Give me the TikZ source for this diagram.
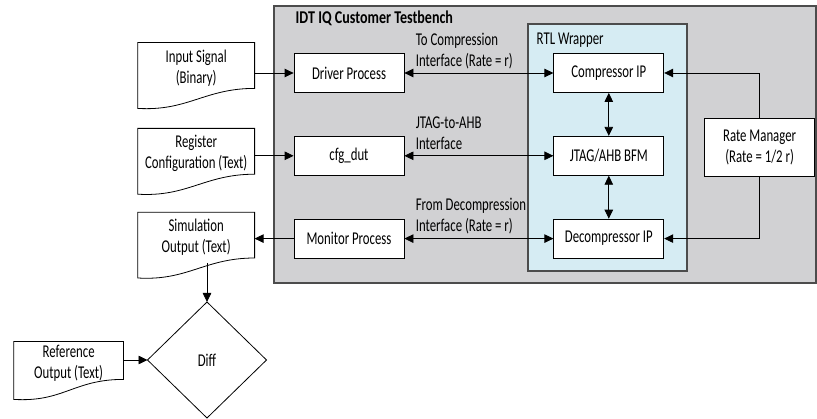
\documentclass[tikz,border=0pt]{standalone}
\usepackage{fontspec}
\setmainfont{Carlito}[FakeStretch=0.71]
\usepackage{xcolor}
\usetikzlibrary{shapes.geometric, arrows.meta, positioning, calc}
\definecolor{benchgray}{RGB}{209,209,211}
\definecolor{wrapblue}{RGB}{214,236,243}
\tikzset{block/.style={rectangle,draw,fill=white,align=center,minimum width=110pt,minimum height=39pt,inner sep=2pt},
         doc/.style={rectangle,align=center,minimum width=116pt,minimum height=50pt,inner sep=0pt},
         decision/.style={diamond,draw,minimum width=119pt,minimum height=116pt,inner sep=0pt,outer sep=0pt},
         frame/.style={draw=black!70,line width=1.1pt},
         lbl/.style={align=left,inner sep=0pt,execute at end node=\strut},
         arrow/.style={-{Triangle[length=9pt,width=8.5pt]}},
         biarrow/.style={{Triangle[length=9pt,width=8.5pt]}-{Triangle[length=9pt,width=8.5pt]}}}

\begin{document}
\begin{tikzpicture}[x=1pt,y=-1pt,node distance=43pt,font=\fontsize{18}{21}\selectfont,line width=0.8pt]
    \useasboundingbox (0,0) rectangle (817,419);
    % testbench and wrapper frames
    \draw[frame, fill=benchgray] (274,6) rectangle (816,283);
    \draw[frame, fill=wrapblue] (528,24) rectangle (687,271);
    \node (bench) [anchor=west] at (292,18) {\scalebox{1.1}[1]{\bfseries IDT IQ Customer Testbench}};
    \node (wrap) [anchor=west] at (533,40) {RTL Wrapper};
    % processes
    \node (driver) [block] at (349,73) {Driver Process};
    \node (cfgdut) [block, below=of driver] {cfg\_dut};
    \node (monitor) [block, below=of cfgdut] {Monitor Process};
    \node (compr) [block, right=149pt of driver] {Compressor IP};
    \node (bfm) [block, below=of compr] {JTAG/AHB BFM};
    \node (decomp) [block, below=of bfm] {Decompressor IP};
    \node (ratemgr) [block, right=40pt of bfm, yshift=8pt, minimum height=58pt] {Rate Manager\\(Rate = 1/2 r)};
    % interface labels
    \node (tolbl) [lbl, above right=0pt and 11pt of driver.east] {To Compression\\Interface (Rate = r)};
    \node (jtaglbl) [lbl, above right=0pt and 11pt of cfgdut.east] {JTAG-to-AHB\\Interface};
    \node (fromlbl) [lbl, above right=0pt and 11pt of monitor.east] {From Decompression\\Interface (Rate = r)};
    % files
    \node (insig) [doc, left=39pt of driver, yshift=5pt] {Input Signal\\(Binary)};
    \node (regcfg) [doc, left=39pt of cfgdut, yshift=2pt] {Register\\Configuration (Text)};
    \node (simout) [doc, left=39pt of monitor, yshift=1pt] {Simulation\\Output (Text)};
    \node (diff) [decision] at (207,360) {Diff};
    \node (refout) [doc, left=24pt of diff, yshift=-3pt, minimum width=109pt, minimum height=42pt] {Reference\\Output (Text)};
    \foreach \d in {insig,regcfg,simout,refout}
      \draw (\d.north west) -- (\d.north east) -- ($(\d.south east)+(0,-5)$) .. controls +(-50,0) and +(50,3) .. ($(\d.south west)+(0,15)$) -- cycle;
    % connectors
    \draw[arrow] (insig.east |- driver.west) -- (driver.west);
    \draw[arrow] (regcfg.east |- cfgdut.west) -- (cfgdut.west);
    \draw[arrow] (monitor.west) -- (monitor.west -| simout.east);
    \foreach \i/\j in {driver/compr,cfgdut/bfm,monitor/decomp,compr/bfm,bfm/decomp} {\draw[biarrow] (\i) -- (\j);}
    \draw[arrow] (ratemgr.north) |- (compr.east);
    \draw[arrow] (ratemgr.south) |- (decomp.east);
    \draw[arrow] (diff.north |- simout.south) -- (diff.north);
    \draw[arrow] (refout.east |- diff.west) -- (diff.west);
\end{tikzpicture}
\end{document}
